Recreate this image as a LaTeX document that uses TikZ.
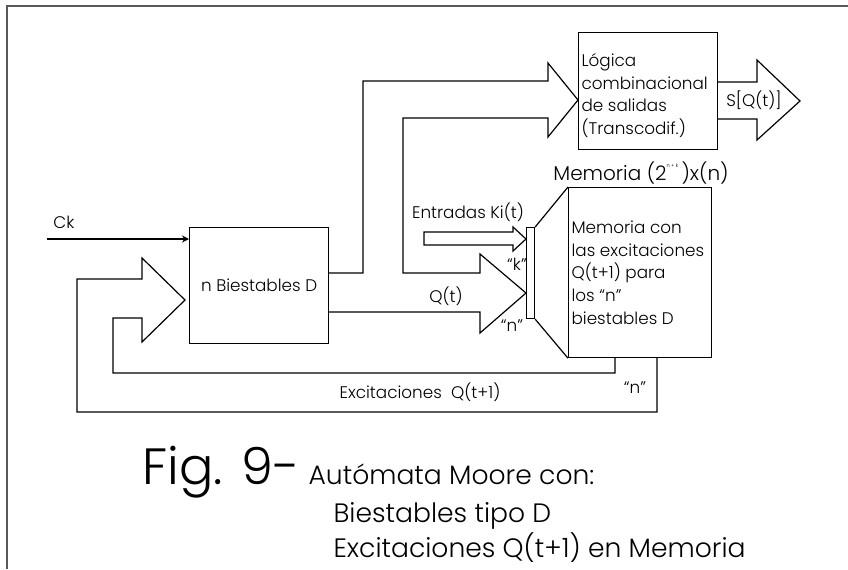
\documentclass[tikz,border=0pt]{standalone}
\usepackage{fontspec}
\setmainfont{Poppins}[UprightFont={* Light}]
\usetikzlibrary{arrows.meta}

\begin{document}
\begin{tikzpicture}[
  x=0.5pt,
  y=-0.5pt,
  line width=0.6pt,
  box/.style={
    draw,
    rectangle,
    inner sep=0pt,
    anchor=north west
  },
  txt/.style={
    inner sep=0pt,
    anchor=west,
    align=left,
    font=\fontsize{8.4}{11.3}\selectfont
  },
  lbl/.style={inner sep=0pt, font=\fontsize{8.4}{10}\selectfont},
  captxt/.style={inner sep=0pt, anchor=base west, font=\fontsize{13.3}{15}\selectfont},
  bus/.style={draw, line join=miter},
  clk/.style={-{Stealth[length=3.5pt,width=3.5pt]}},
  frame/.style={draw=black!65, line width=1.1pt}
]
\useasboundingbox (0,0) rectangle (848,569);
\draw[frame] (848,6) -- (7,6) -- (7,569);

% blocks
\node[box, minimum width=69.5pt, minimum height=58pt] (biest) at (189,227) {};
\node[lbl] (biesttxt) at (biest.center) {n Biestables D};
\node[box, minimum width=69.5pt, minimum height=58.5pt] (logica) at (578,32) {};
\node[txt] (logtxt) at ([xshift=1.5pt,yshift=-2.2pt]logica.west) {Lógica\\combinacional\\de salidas\\(Transcodif.)};
\node[box, minimum width=71.5pt, minimum height=85pt] (mem) at (568,187) {};
\node[txt] (memtxt) at ([xshift=1.5pt]mem.west) {Memoria con\\las excitaciones\\Q(t+1) para\\los “n”\\biestables D};
\node[box, minimum width=4pt, minimum height=45.5pt] (bar) at (526,227) {};
\draw (bar.north east) -- (mem.north west);
\draw (bar.south east) -- (mem.south west);

% clock
\node[lbl] (ck) at (64,222) {Ck};
\coordinate (ckin) at (47,239);
\draw[clk] (ckin) -- (biest.west |- ckin);

% state bus: to output logic and to memory
\draw[bus] (biest.east |- 0,273) -- (363,273) -- (363,81) -- (548,81) -- (548,63)
  -- (logica.west |- 0,100) -- (548,137) -- (548,118) -- (403,118) -- (403,273)
  -- (480,273) -- (480,254) -- (bar.west |- 0,293) -- (480,333) -- (480,312)
  -- (biest.east |- 0,312);

% inputs
\draw[bus] (424,232) -- (513,232) -- (513,227) -- (bar.west |- 0,239) -- (513,251)
  -- (513,245) -- (424,245) -- cycle;

% outputs
\draw[bus] (logica.east |- 0,82) -- (757,82) -- (757,60) -- (800,101) -- (757,140)
  -- (757,119) -- (logica.east |- 0,119);

% excitations back to the flip-flops
\draw[bus] (mem.south -| 657,0) -- (657,412) -- (77,412) -- (77,279) -- (142,279)
  -- (142,258) -- (185,300) -- (142,342) -- (142,318) -- (113,318) -- (113,373)
  -- (615,373) -- (mem.south -| 615,0);

% labels
\node[lbl] (entr) at (468,212) {Entradas Ki(t)};
\node[lbl] (kq) at (517,264) {“k”};
\node[lbl] (nq) at (512,326) {“n”};
\node[lbl] (qt) at (446,296) {Q(t)};
\node[lbl] (sq) at (754,100) {S[Q(t)]};
\node[lbl, font=\fontsize{10}{12}\selectfont] (memtit) at (641,173) {Memoria (2\raisebox{1.2ex}{\fontsize{2.5}{3}\selectfont n + k}\,)x(n)};
\node[lbl] (exc) at (420,392) {Excitaciones\ \ Q(t+1)};
\node[lbl] (nfb) at (635,388) {“n”};

% caption
\node[captxt, font=\fontsize{25.5}{27}\selectfont] (fig) at (142,484) {Fig. 9-};
\node[captxt] (cap1) at (308,484) {Autómata Moore con:};
\node[captxt] (cap2) at (333,522) {Biestables tipo D};
\node[captxt] (cap3) at (333,557) {Excitaciones Q(t+1) en Memoria};
\end{tikzpicture}
\end{document}
